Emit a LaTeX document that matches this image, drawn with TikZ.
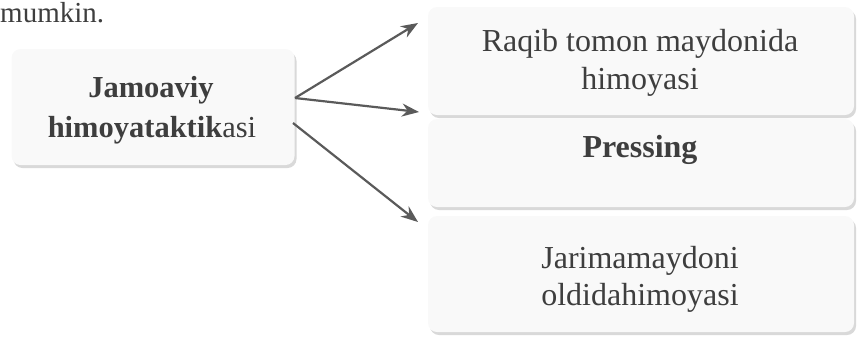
\documentclass[tikz,border=0pt]{standalone}
\usepackage{fontspec}
\setmainfont{Liberation Serif}
\usetikzlibrary{shadows,arrows.meta}
\definecolor{txt}{HTML}{3E3E3E}
\definecolor{arrowc}{HTML}{5A5A5A}
\definecolor{boxfill}{HTML}{F9F9F9}
\begin{document}
\begin{tikzpicture}[x=1pt,y=-1pt,
  panel/.style={draw=none, fill=boxfill, rounded corners=9pt,
    drop shadow={shadow xshift=2pt, shadow yshift=-3pt, fill=gray!50, opacity=0.6}},
  lbl/.style={text=txt, inner sep=0pt, anchor=base, align=center},
  arr/.style={draw=arrowc, line width=2.2pt, -{Stealth[length=17pt,width=13pt]}}]
\useasboundingbox (0,0) rectangle (857,338);
\node[lbl, anchor=base west, font=\fontsize{29}{32}\selectfont] (mk) at (0,22) {mumkin.};
% left box
\node[panel, minimum width=283pt, minimum height=116pt, inner sep=0pt] (left) at (153,107) {};
\node[lbl, font=\fontsize{30.5}{33}\selectfont\bfseries] (l1) at (151,97) {Jamoaviy};
\node[lbl, font=\fontsize{30.5}{33}\selectfont] (l2) at (152,137) {\textbf{himoyataktik}asi};
% right boxes
\node[panel, minimum width=426pt, minimum height=108pt, inner sep=0pt] (b1) at (641,61) {};
\node[panel, minimum width=426pt, minimum height=88pt, inner sep=0pt] (b2) at (641,163) {};
\node[panel, minimum width=426pt, minimum height=116pt, inner sep=0pt] (b3) at (641,274) {};
\node[lbl, font=\fontsize{32}{35}\selectfont] (t1a) at (640,51) {Raqib tomon maydonida};
\node[lbl, font=\fontsize{32}{35}\selectfont] (t1b) at (640,89) {himoyasi};
\node[lbl, font=\fontsize{32}{35}\selectfont\bfseries] (t2) at (640,157) {Pressing};
\node[lbl, font=\fontsize{32}{35}\selectfont] (t3a) at (640,268) {Jarimamaydoni};
\node[lbl, font=\fontsize{32}{35}\selectfont] (t3b) at (640,305) {oldidahimoyasi};
% arrows
\coordinate (s1) at (295,98);
\coordinate (s3) at (293,123);
\coordinate (e1) at (418,23);
\coordinate (e2) at (419,112);
\coordinate (e3) at (418,222);
\draw[arr] (s1) -- (e1);
\draw[arr] (s1) -- (e2);
\draw[arr] (s3) -- (e3);
\end{tikzpicture}
\end{document}
